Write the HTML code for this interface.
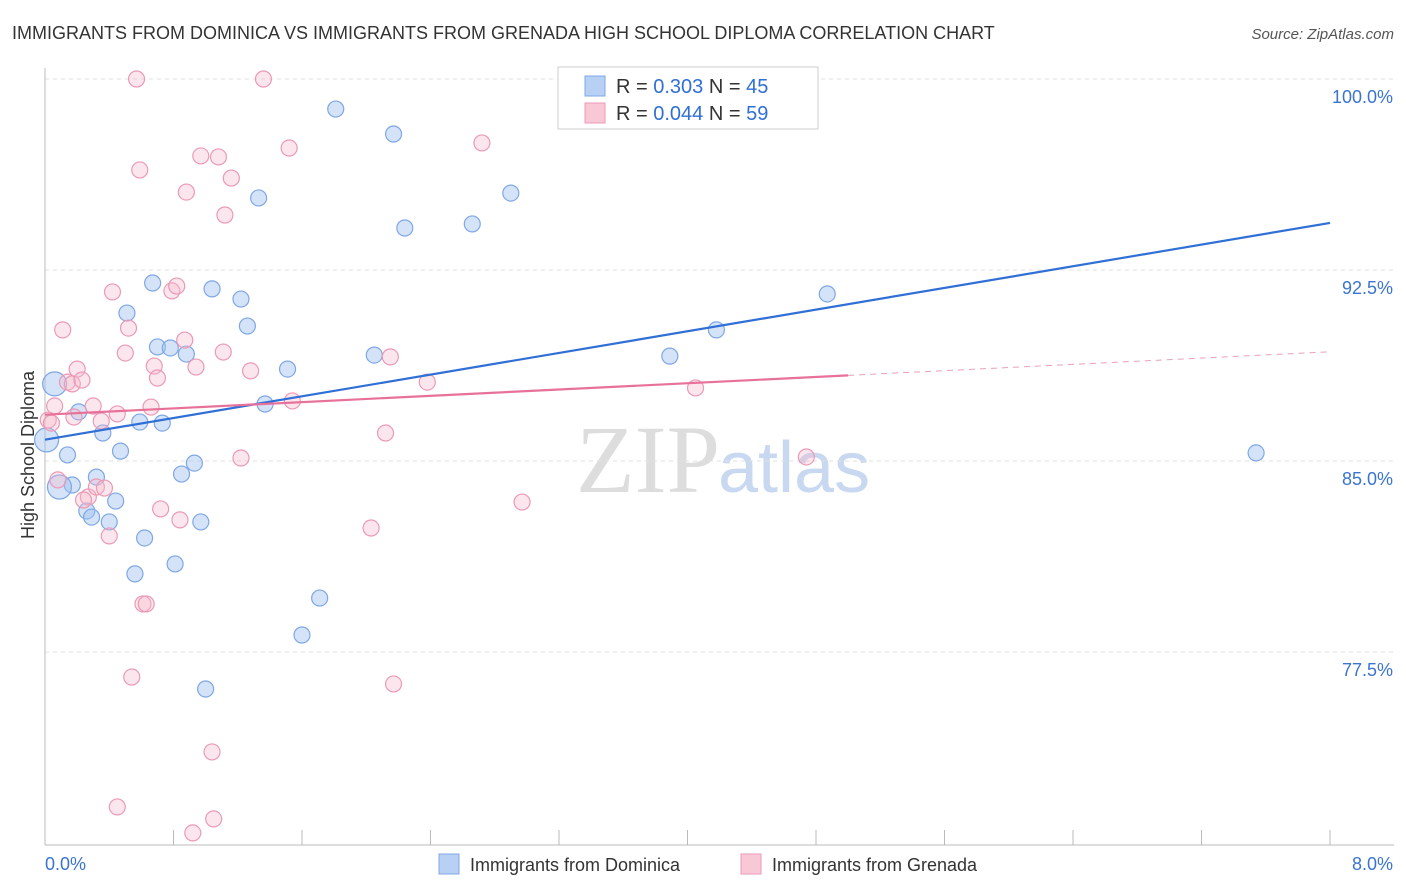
<!DOCTYPE html>
<html><head><meta charset="utf-8"><style>
body{margin:0;background:#fff;font-family:"Liberation Sans",sans-serif;}
svg{display:block}
</style></head><body>
<svg width="1406" height="892" xmlns="http://www.w3.org/2000/svg">
<text x="12" y="39" font-size="18" fill="#333">IMMIGRANTS FROM DOMINICA VS IMMIGRANTS FROM GRENADA HIGH SCHOOL DIPLOMA CORRELATION CHART</text>
<text x="1394" y="39" font-size="15" fill="#555" font-style="italic" text-anchor="end">Source: ZipAtlas.com</text>
<text x="720" y="492" font-size="96" fill="#ddd" text-anchor="end" font-family="Liberation Serif,serif">ZIP</text>
<text x="718" y="492" font-size="72" fill="#c8d8f0">atlas</text>
<g id="grid"></g>
<g id="axes"></g>
<text transform="translate(34,455) rotate(-90)" font-size="18" fill="#333" text-anchor="middle">High School Diploma</text>
<g id="pts"></g>
<g id="lines"></g>
<g>
<rect x="558" y="67" width="260" height="62" fill="#fff" stroke="#ccc"/>
<rect x="585" y="76" width="20" height="20" fill="#b8d0f4" stroke="#7fa7e6"/>
<text x="616" y="93" font-size="20" fill="#333">R = <tspan fill="#2f6fd6">0.303</tspan>   N = <tspan fill="#2f6fd6">45</tspan></text>
<rect x="585" y="103" width="20" height="20" fill="#f8c8d6" stroke="#eb9ab4"/>
<text x="616" y="120" font-size="20" fill="#333">R = <tspan fill="#2f6fd6">0.044</tspan>   N = <tspan fill="#2f6fd6">59</tspan></text>
</g>
<g>
<rect x="439" y="854" width="20" height="20" fill="#b8d0f4" stroke="#7fa7e6"/>
<text x="470" y="871" font-size="18" fill="#333">Immigrants from Dominica</text>
<rect x="741" y="854" width="20" height="20" fill="#f8c8d6" stroke="#eb9ab4"/>
<text x="772" y="871" font-size="18" fill="#333">Immigrants from Grenada</text>
</g>
</svg>
<script>
const xTicks=[0,1,2,3,4,5,6,7,8];
const yTicks=[100,92.5,85,77.5];
const yTickLabels=["100.0%","92.5%","85.0%","77.5%"];
const blueX=[1.81,2.17,1.33,2.90,2.24,2.66,0.67,1.04,1.22,0.51,1.26,0.70,0.78,0.88,1.51,2.05,3.89,4.18,4.87,0.06,0.21,0.36,0.59,0.73,1.37,0.14,0.47,0.01,0.17,0.09,0.32,0.26,0.29,0.44,0.40,0.85,0.93,0.97,0.62,0.56,0.81,1.71,1.60,1.00,7.54];
const blueY=[98.82,97.84,95.33,95.52,94.15,94.31,91.99,91.76,91.36,90.81,90.30,89.48,89.44,89.20,88.61,89.16,89.12,90.15,91.56,88.03,86.93,86.10,86.53,86.49,87.24,85.24,85.39,85.83,84.06,83.98,84.37,83.04,82.80,83.43,82.61,84.49,84.92,82.61,81.98,80.57,80.96,79.62,78.17,76.05,85.32];
const blueBig=[19,27,29];
const pinkX=[0.57,1.36,0.59,0.97,1.08,1.52,2.72,0.88,1.16,1.12,0.42,0.79,0.82,0.11,0.52,0.87,0.50,1.11,0.20,0.68,0.70,0.94,1.28,2.15,0.14,0.17,0.23,2.38,4.05,0.06,0.30,0.66,1.54,0.45,0.02,0.04,0.18,0.35,2.12,1.22,4.74,0.08,0.27,0.24,0.32,0.37,0.72,0.84,2.97,2.03,0.40,0.61,0.63,0.54,2.17,1.04,0.45,1.05,0.92];
const pinkY=[100,100,96.43,96.98,96.94,97.29,97.49,95.56,96.11,94.66,91.64,91.68,91.87,90.15,90.22,89.75,89.24,89.28,88.61,88.73,88.26,88.69,88.54,89.09,88.10,88.03,88.18,88.10,87.87,87.16,87.16,87.12,87.36,86.85,86.61,86.49,86.73,86.57,86.10,85.12,85.16,84.26,83.59,83.47,83.98,83.94,83.12,82.69,83.39,82.37,82.06,79.39,79.39,76.52,76.25,73.58,71.42,70.95,70.40];
const blueTrend=[85.84,94.35];
const pinkTrend=[86.82,89.29];
const pinkSolidEnd=5.0;
const NS="http://www.w3.org/2000/svg";
const X=v=>45+v/8*1285;
const Y=v=>79+(100-v)*25.47;
function mk(t,a,p){const e=document.createElementNS(NS,t);for(const k in a)e.setAttribute(k,a[k]);p.appendChild(e);return e;}
const grid=document.getElementById('grid'),axes=document.getElementById('axes');
yTicks.forEach((v,i)=>{
 const l=mk('line',{x1:45,x2:1394,y1:Y(v),y2:Y(v),stroke:'#e2e2e2','stroke-dasharray':'4,4'},grid);
 
 
 const t=mk('text',{x:1393,y:Y(v)+24,'font-size':18,fill:'#3a74d0','text-anchor':'end'},axes);
 t.textContent=yTickLabels[i];
 
 
});
const ax=mk('line',{x1:45,x2:45,y1:68,y2:845,stroke:'#bbb'},axes);


const bx=mk('line',{x1:45,x2:1394,y1:845,y2:845,stroke:'#bbb'},axes);


for(let i=0;i<=10;i++){const tx=mk('line',{x1:45+i*128.5,x2:45+i*128.5,y1:830,y2:845,stroke:'#bbb'},axes);
 
 }
const t0=mk('text',{x:45,y:870,'font-size':18,fill:'#3a74d0'},axes);t0.textContent=xTicks[0].toFixed(1)+'%';


const t1=mk('text',{x:1393,y:870,'font-size':18,fill:'#3a74d0','text-anchor':'end'},axes);t1.textContent=xTicks[8].toFixed(1)+'%';


const pts=document.getElementById('pts');
blueX.forEach((x,i)=>{const c=mk('circle',{cx:X(x),cy:Y(blueY[i]),r:blueBig.includes(i)?12:8,fill:'rgba(160,192,240,0.45)',stroke:'#7fa7e6','stroke-width':1.2},pts);
 
 });
pinkX.forEach((x,i)=>{const c=mk('circle',{cx:X(x),cy:Y(pinkY[i]),r:8,fill:'rgba(246,184,204,0.35)',stroke:'#eb9ab4','stroke-width':1.2},pts);
 
 });
const lines=document.getElementById('lines');
const bl=mk('line',{x1:X(0),y1:Y(blueTrend[0]),x2:X(8),y2:Y(blueTrend[1]),stroke:'#2f6fd6','stroke-width':2.2},lines);


const pAt=x=>pinkTrend[0]+(pinkTrend[1]-pinkTrend[0])*x/8;
const pl=mk('line',{x1:X(0),y1:Y(pAt(0)),x2:X(pinkSolidEnd),y2:Y(pAt(pinkSolidEnd)),stroke:'#e8719a','stroke-width':2.2},lines);


const pd=mk('line',{x1:X(pinkSolidEnd),y1:Y(pAt(pinkSolidEnd)),x2:X(8),y2:Y(pAt(8)),stroke:'#e8a0b8','stroke-width':1,'stroke-dasharray':'6,5'},lines);


</script>
</body></html>
